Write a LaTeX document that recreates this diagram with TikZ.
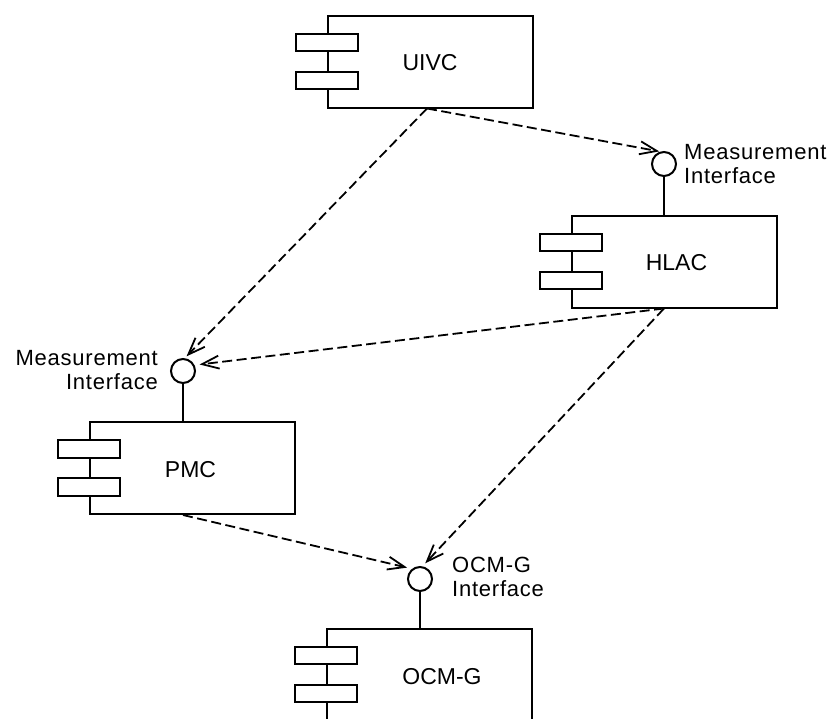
\documentclass[tikz,border=0pt]{standalone}
\usepackage{fontspec}
\setmainfont{Liberation Sans}
\newfontfamily\lblfont[LetterSpace=3.5]{Liberation Sans}
\usetikzlibrary{arrows.meta}

\tikzset{
  comp/.style={draw, line width=2pt, fill=white, inner sep=0pt,
               minimum width=205pt, minimum height=92pt},
  tab/.style={draw, line width=2pt, fill=white, inner sep=0pt,
              minimum width=62pt, minimum height=17.5pt},
  iface/.style={circle, draw, line width=2pt, fill=white, inner sep=0pt,
                minimum size=24pt},
  stem/.style={line width=2pt},
  cname/.style={inner sep=0pt, font=\fontsize{23}{27}\selectfont},
  iname/.style={inner sep=0pt, font=\lblfont\fontsize{22}{24.5}\selectfont},
  dep/.style={line width=1.8pt, dash pattern=on 10pt off 4.5pt,
              -{Straight Barb[length=17pt,width=13pt,line width=1.8pt]}},
}

\begin{document}
\begin{tikzpicture}[x=1pt, y=-1pt]
  \useasboundingbox (0,0) rectangle (830,718);

  % components
  \node[comp] (uivc) at (430,61.5) {};
  \node[comp] (hlac) at (674,261.5) {};
  \node[comp] (pmc)  at (192.5,468) {};
  \node[comp] (ocmg) at (429.5,674.5) {};

  % component tabs
  \foreach \c in {uivc,hlac,pmc,ocmg}{
    \node[tab] (\c TabA) at ([yshift=-28pt]\c.north west) {};
    \node[tab] (\c TabB) at ([yshift=-66pt]\c.north west) {};
  }

  % component names
  \node[cname] (uivcName) at (430,63)    {UIVC};
  \node[cname] (hlacName) at (676.5,263) {HLAC};
  \node[cname] (pmcName)  at (190.5,469.5) {PMC};
  \node[cname] (ocmgName) at (442,676.5) {OCM-G};

  % provided interfaces
  \node[iface] (hlacI) at (664,164) {};
  \node[iface] (pmcI)  at (183,371) {};
  \node[iface] (ocmgI) at (420,579) {};
  \draw[stem] (hlacI.south) -- (hlacI.south |- hlac.north);
  \draw[stem] (pmcI.south)  -- (pmcI.south |- pmc.north);
  \draw[stem] (ocmgI.south) -- (ocmgI.south |- ocmg.north);

  \node[iname, align=left,  anchor=west] (hlacILabel) at (684,164)
    {Measurement\\Interface};
  \node[iname, align=right, anchor=east] (pmcILabel)  at (158,370)
    {Measurement\\Interface};
  \node[iname, align=left,  anchor=west] (ocmgILabel) at (452,577)
    {OCM-G\\Interface};

  % dependencies
  \draw[dep, shorten >=1pt] ([xshift=-3pt]uivc.south) -- (hlacI.107);
  \draw[dep, shorten >=2.5pt] ([xshift=-3pt]uivc.south) -- (pmcI.82);
  \draw[dep, shorten >=5pt] ([xshift=-10pt]hlac.south) -- (pmcI.27);
  \draw[dep, shorten >=4pt] ([xshift=-10pt]hlac.south) -- (ocmgI.79);
  \draw[dep, shorten >=5pt] ([xshift=-9.5pt]pmc.south) -- (ocmgI.128);
\end{tikzpicture}
\end{document}
